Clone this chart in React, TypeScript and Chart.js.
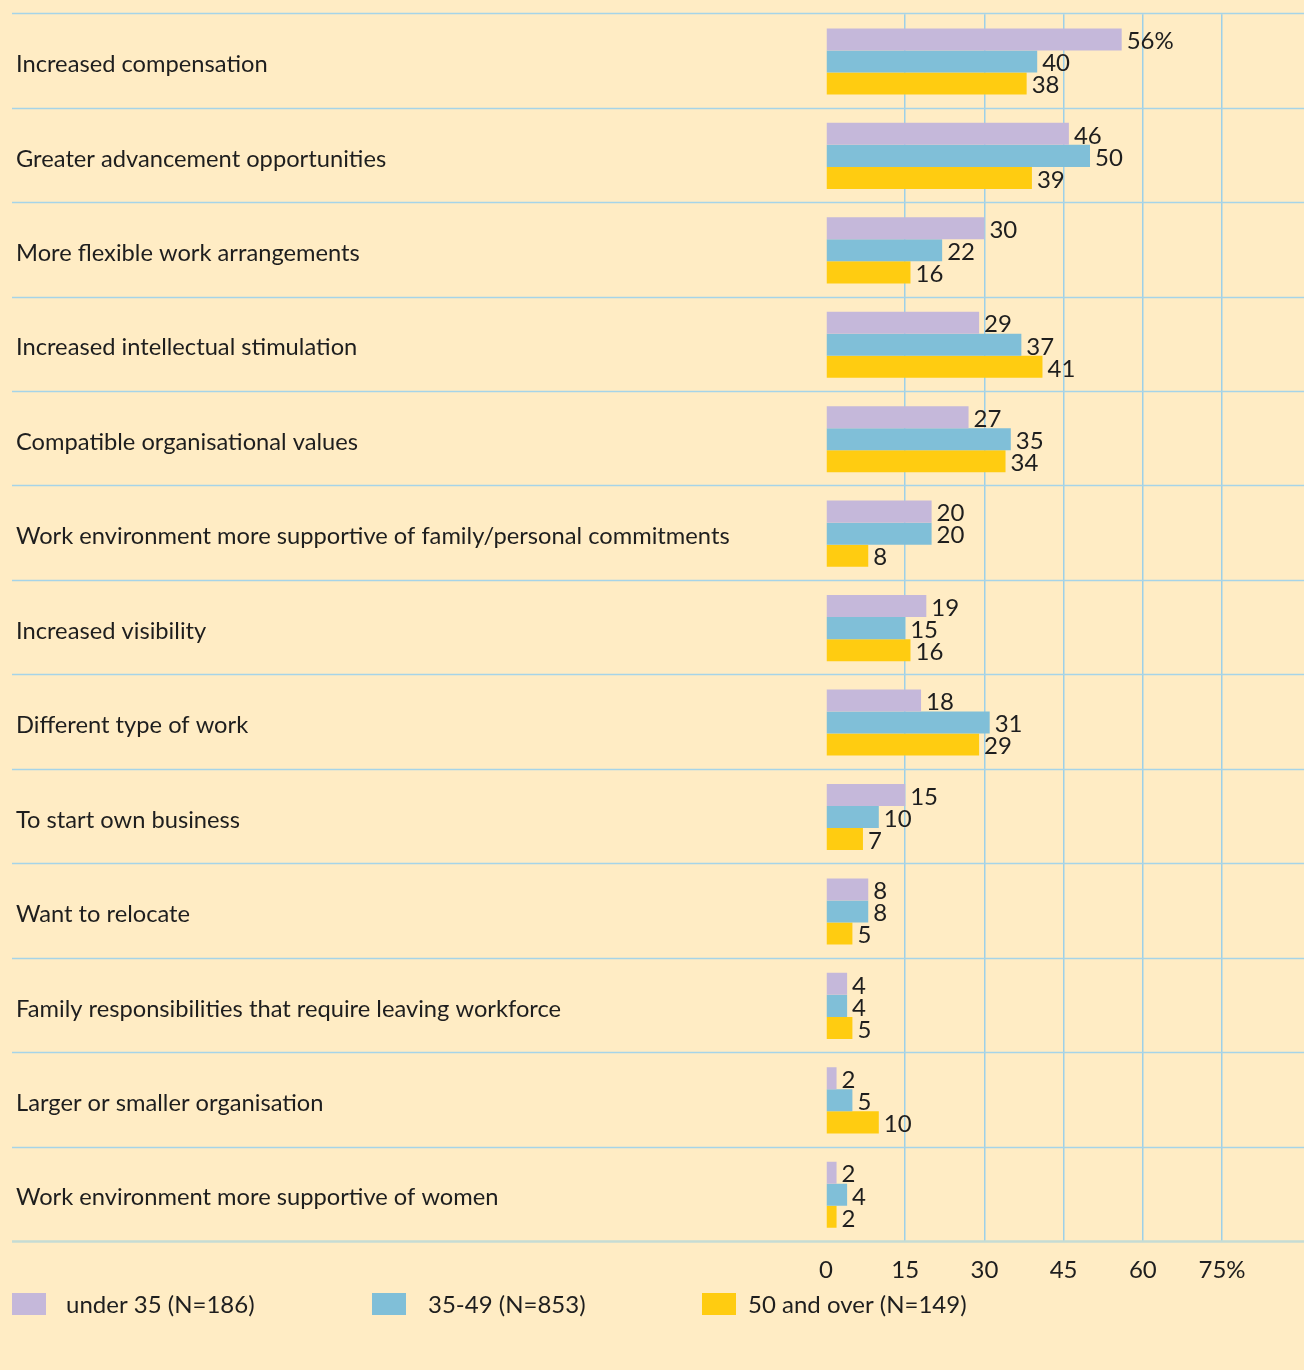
import React, { useEffect, useRef } from "react";
import { Chart, registerables } from "chart.js";

Chart.register(...registerables);

const categories = [
  "Increased compensation",
  "Greater advancement opportunities",
  "More flexible work arrangements",
  "Increased intellectual stimulation",
  "Compatible organisational values",
  "Work environment more supportive of family/personal commitments",
  "Increased visibility",
  "Different type of work",
  "To start own business",
  "Want to relocate",
  "Family responsibilities that require leaving workforce",
  "Larger or smaller organisation",
  "Work environment more supportive of women",
];

const under35 = [56, 46, 30, 29, 27, 20, 19, 18, 15, 8, 4, 2, 2];
const age35to49 = [40, 50, 22, 37, 35, 20, 15, 31, 10, 8, 4, 5, 4];
const over50 = [38, 39, 16, 41, 34, 8, 16, 29, 7, 5, 5, 10, 2];

const seriesLabels = ["under 35 (N=186)", "35-49 (N=853)", "50 and over (N=149)"];
const seriesColors = ["#C5B8DA", "#80BFD8", "#FFCC11"];
const xTicks = [0, 15, 30, 45, 60, 75];

const BG = "#FFECC4";
const FONT = "Lato";
const TEXT = "#1E1E1E";

export default function App() {
  const ref = useRef<HTMLCanvasElement | null>(null);

  useEffect(() => {
    if (!ref.current) return;

    const bgPlugin = {
      id: "bg",
      beforeDraw(chart: any) {
        const { ctx, width, height } = chart;
        ctx.save();
        ctx.fillStyle = BG;
        ctx.fillRect(0, 0, width, height);
        ctx.restore();
      },
    };

    const separators = {
      id: "separators",
      beforeDatasetsDraw(chart: any) {
        const { ctx, width } = chart;
        const y = chart.scales.y;
        const n = categories.length;
        ctx.save();
        for (let i = 0; i <= n; i++) {
          const py = Math.round(y.getPixelForValue(i - 0.5)) - 0.5;
          if (i === n) {
            ctx.strokeStyle = "#C6DCD4";
            ctx.lineWidth = 2.5;
          } else {
            ctx.strokeStyle = "#A6D4E8";
            ctx.lineWidth = 1.5;
          }
          ctx.beginPath();
          ctx.moveTo(12, py);
          ctx.lineTo(width, py);
          ctx.stroke();
        }
        ctx.restore();
      },
    };

    const valueLabels = {
      id: "valueLabels",
      afterDatasetsDraw(chart: any) {
        const { ctx } = chart;
        ctx.save();
        ctx.font = `24px ${FONT}`;
        ctx.fillStyle = TEXT;
        ctx.textAlign = "left";
        ctx.textBaseline = "middle";
        chart.data.datasets.forEach((ds: any, di: number) => {
          const meta = chart.getDatasetMeta(di);
          meta.data.forEach((bar: any, i: number) => {
            const v = ds.data[i];
            const txt = di === 0 && i === 0 ? `${v}%` : `${v}`;
            ctx.fillText(txt, bar.x + 5, bar.y + 2);
          });
        });
        ctx.restore();
      },
    };

    const legendPlugin = {
      id: "customLegend",
      afterDraw(chart: any) {
        const { ctx } = chart;
        const boxX = [12, 372, 702];
        const textX = [66, 428, 748];
        const cy = 1304;
        ctx.save();
        ctx.font = `24px ${FONT}`;
        ctx.textBaseline = "middle";
        ctx.textAlign = "left";
        chart.data.datasets.forEach((ds: any, i: number) => {
          ctx.fillStyle = ds.backgroundColor;
          ctx.fillRect(boxX[i], cy - 11, 34, 22);
          ctx.fillStyle = TEXT;
          ctx.fillText(ds.label, textX[i], cy + 1);
        });
        ctx.restore();
      },
    };

    const chart = new Chart(ref.current, {
      type: "bar",
      data: {
        labels: categories,
        datasets: [
          { label: seriesLabels[0], data: under35, backgroundColor: seriesColors[0] },
          { label: seriesLabels[1], data: age35to49, backgroundColor: seriesColors[1] },
          { label: seriesLabels[2], data: over50, backgroundColor: seriesColors[2] },
        ],
      },
      options: {
        indexAxis: "y",
        animation: false,
        responsive: false,
        maintainAspectRatio: false,
        devicePixelRatio: 1,
        layout: { padding: { left: 16, right: 82, top: 12, bottom: 78 } },
        datasets: {
          bar: { barPercentage: 1.0, categoryPercentage: 0.7, borderWidth: 0 },
        },
        plugins: {
          legend: { display: false },
          tooltip: { enabled: false },
          title: { display: false },
        },
        scales: {
          x: {
            type: "linear",
            min: 0,
            max: 75,
            position: "bottom",
            afterBuildTicks(scale: any) {
              scale.ticks = xTicks.map((v) => ({ value: v }));
            },
            afterFit(scale: any) {
              scale.height = 50;
            },
            border: { display: false },
            grid: {
              drawTicks: false,
              tickLength: 0,
              lineWidth: 1.5,
              color: (c: any) => (c.tick && c.tick.value === 0 ? "rgba(0,0,0,0)" : "#9DD0E8"),
            },
            ticks: {
              padding: 14,
              color: TEXT,
              font: { family: FONT, size: 24 },
              callback: (v: any) => (v === 75 ? "75%" : `${v}`),
            },
          },
          y: {
            type: "category",
            position: "left",
            offset: true,
            afterFit(scale: any) {
              scale.width = 810;
            },
            border: { display: false },
            grid: { display: false, drawTicks: false },
            ticks: {
              crossAlign: "far",
              padding: 0,
              labelOffset: 3,
              color: TEXT,
              font: { family: FONT, size: 23.7 },
            },
          },
        },
      },
      plugins: [bgPlugin, separators, valueLabels, legendPlugin],
    });

    return () => chart.destroy();
  }, []);

  return (
    <div style={{ position: "absolute", left: 0, top: 0, width: 1304, height: 1370, background: BG }}>
      <canvas ref={ref} width={1304} height={1370} style={{ width: 1304, height: 1370, display: "block" }} />
    </div>
  );
}
